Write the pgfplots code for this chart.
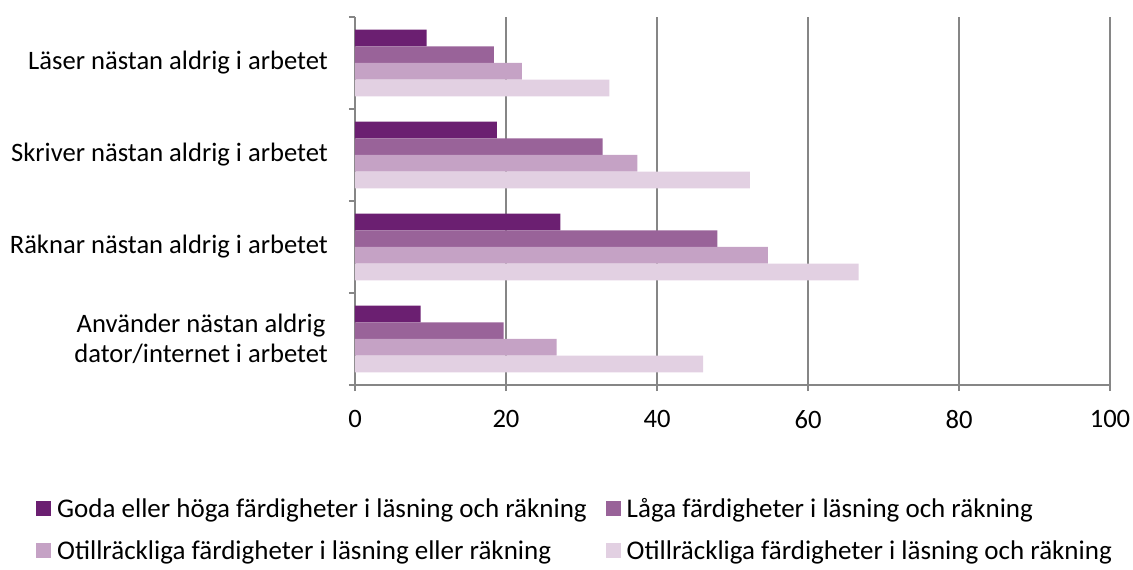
\documentclass[border=0pt]{standalone}
\usepackage{fontspec}
\setmainfont{Carlito}
\usepackage{pgfplots}
\pgfplotsset{compat=1.18}
\definecolor{c1}{HTML}{6B1F71}
\definecolor{c2}{HTML}{996399}
\definecolor{c3}{HTML}{C5A2C5}
\definecolor{c4}{HTML}{E2D0E2}
\definecolor{axgray}{HTML}{868686}
\newcommand{\lbl}{\fontsize{26.6}{30.5}\selectfont}
\newcommand{\lgd}{\fontsize{27}{31}\selectfont}
\begin{document}
\begin{tikzpicture}
\useasboundingbox (-355pt,-185pt) rectangle (778pt,385pt);
\begin{axis}[
  at={(0pt,0pt)}, anchor=south west,
  width=755pt, height=368pt, scale only axis,
  xbar,
  xmin=0, xmax=100, ymin=-0.5, ymax=3.5,
  bar width=0.1815,
  axis x line*=bottom, axis y line*=left,
  axis line style={axgray, line width=1.3pt},
  xmajorgrids,
  major grid style={axgray, line width=1.3pt},
  xtick={0,20,40,60,80,100},
  ytick={0,1,2,3},
  yticklabels={{Använder nästan aldrig\\dator/internet i arbetet},{Räknar nästan aldrig i arbetet},{Skriver nästan aldrig i arbetet},{Läser nästan aldrig i arbetet}},
  minor ytick={-0.5,0.5,1.5,2.5,3.5},
  tick align=outside,
  major tick length=6pt,
  minor tick length=6pt,
  major x tick style={axgray, line width=1.3pt},
  major y tick style={draw=none},
  minor y tick style={axgray, line width=1.3pt},
  /pgf/number format/assume math mode=true,
  tick label style={font=\lbl, text=black},
  yticklabel style={align=center, inner sep=0pt, xshift=-21pt},
  xticklabel style={inner sep=0pt, yshift=-19pt},
  legend columns=2,
  legend cell align=left,
  legend image code/.code={\fill[#1] (0pt,-7.5pt) rectangle (15pt,7.5pt);},
  legend style={draw=none, fill=none, font=\lgd,
    at={(axis description cs:0,0)}, anchor=north west,
    xshift=-319pt, yshift=-113pt,
    inner sep=0pt, row sep=22pt,
    nodes={inner sep=0pt},
    /tikz/every odd column/.append style={column sep=6pt},
    /tikz/every even column/.append style={column sep=19pt}},
]
\addplot[fill=c1, draw=none, bar shift=0.2722] coordinates {(8.7,0) (27.2,1) (18.8,2) (9.5,3)};
\addplot[fill=c2, draw=none, bar shift=0.0907] coordinates {(19.7,0) (48.0,1) (32.8,2) (18.4,3)};
\addplot[fill=c3, draw=none, bar shift=-0.0907] coordinates {(26.7,0) (54.7,1) (37.4,2) (22.1,3)};
\addplot[fill=c4, draw=none, bar shift=-0.2722] coordinates {(46.1,0) (66.7,1) (52.3,2) (33.7,3)};
\legend{Goda eller höga färdigheter i läsning och räkning,Låga färdigheter i läsning och räkning,Otillräckliga färdigheter i läsning eller räkning,Otillräckliga färdigheter i läsning och räkning}
\end{axis}
\end{tikzpicture}
\end{document}
